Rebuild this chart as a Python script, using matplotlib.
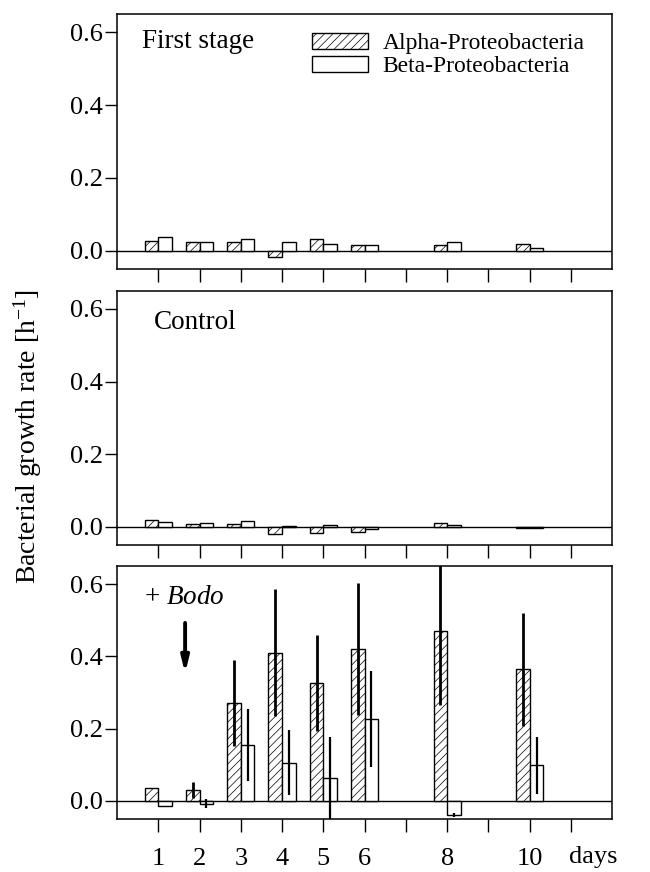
import numpy as np
import matplotlib
matplotlib.use("Agg")
import matplotlib.pyplot as plt

plt.rcParams['font.family'] = ['Liberation Serif', 'DejaVu Serif']
plt.rcParams['mathtext.fontset'] = 'custom'
plt.rcParams['mathtext.rm'] = 'Liberation Serif'
plt.rcParams['mathtext.it'] = 'Liberation Serif:italic'
plt.rcParams['hatch.linewidth'] = 0.5

# sampling days
days = [1, 2, 3, 4, 5, 6, 8, 10]

# First stage
first_alpha = [0.027, 0.023, 0.024, -0.016, 0.032, 0.016, 0.017, 0.019]
first_beta = [0.039, 0.024, 0.032, 0.024, 0.019, 0.016, 0.024, 0.009]

# Control
ctrl_alpha = [0.018, 0.007, 0.009, -0.020, -0.017, -0.014, 0.011, -0.002]
ctrl_beta = [0.012, 0.010, 0.016, 0.001, 0.006, -0.006, 0.005, -0.003]

# + Bodo
bodo_alpha = [0.037, 0.030, 0.271, 0.410, 0.325, 0.421, 0.470, 0.364]
bodo_alpha_err = [0.0, 0.023, 0.120, 0.176, 0.133, 0.183, 0.205, 0.157]
bodo_beta = [-0.015, -0.008, 0.155, 0.105, 0.064, 0.227, -0.039, 0.098]
bodo_beta_err = [0.0, 0.013, 0.100, 0.090, 0.113, 0.132, 0.006, 0.080]

panel_names = ["First stage", "Control", "+ $\\mathit{Bodo}$"]
yticks = [0.0, 0.2, 0.4, 0.6]
xtick_labels = ["1", "2", "3", "4", "5", "6", "", "8", "", "10", ""]

fig = plt.figure(figsize=(6.5, 8.72), dpi=100)
left, width = 0.18, 0.762
rects = [(left, 0.6915, width, 0.2925),
         (left, 0.375, width, 0.2915),
         (left, 0.0608, width, 0.2902)]

panels = [(first_alpha, first_beta, None, None),
          (ctrl_alpha, ctrl_beta, None, None),
          (bodo_alpha, bodo_beta, bodo_alpha_err, bodo_beta_err)]

w = 0.33
x = np.array(days, dtype=float)
for i, (rect, (a, b, ae, be)) in enumerate(zip(rects, panels)):
    ax = fig.add_axes(rect)
    ax.bar(x - w / 2, a, width=w, facecolor='white', edgecolor='black',
           hatch='////', linewidth=1.0, label='Alpha-Proteobacteria', zorder=2)
    ax.bar(x + w / 2, b, width=w, facecolor='white', edgecolor='black',
           linewidth=1.0, label='Beta-Proteobacteria', zorder=2)
    if ae is not None:
        ax.errorbar(x - w / 2, a, yerr=ae, fmt='none', ecolor='black',
                    elinewidth=2.0, capsize=0, zorder=3)
        ax.errorbar(x + w / 2, b, yerr=be, fmt='none', ecolor='black',
                    elinewidth=1.6, capsize=0, zorder=3)
    ax.axhline(0, color='black', linewidth=1.0, zorder=1)
    ax.set_xlim(0, 12)
    ax.set_ylim(-0.05, 0.65)
    ax.set_yticks(yticks)
    ax.set_yticklabels([f"{v:.1f}" for v in yticks], fontsize=19)
    ax.set_xticks(range(1, 12))
    ax.tick_params(axis='both', direction='out', length=9, width=1.0)
    ax.tick_params(axis='y', pad=1)
    for s in ax.spines.values():
        s.set_linewidth(1.1)
    if i < 2:
        ax.set_xticklabels([])
    else:
        ax.set_xticklabels(xtick_labels, fontsize=19)
        ax.tick_params(axis='x', pad=12)
        ax.text(11.55, -0.125, "days", fontsize=19, ha='center', va='top')
        ax.annotate('', xy=(1.65, 0.345), xytext=(1.65, 0.50),
                    arrowprops=dict(arrowstyle='-|>,head_length=0.9,head_width=0.22',
                                    lw=2.8, color='black'))
    ypos = 0.94 if i == 0 else 0.925
    xpos = [0.05, 0.075, 0.055][i]
    ax.text(xpos, ypos, panel_names[i], transform=ax.transAxes, fontsize=19.5,
            ha='left', va='top')
    if i == 0:
        ax.legend(loc='upper left', bbox_to_anchor=(0.355, 1.0), frameon=False,
                  fontsize=17, handlelength=2.4, handleheight=0.7,
                  handletextpad=0.6, labelspacing=0.05, borderpad=0.3)

fig.text(0.042, 1 - 437 / 872, "Bacterial growth rate [h$^{-1}$]", rotation=90,
         fontsize=20, ha='center', va='center')

fig.savefig("out.png", dpi=100)
